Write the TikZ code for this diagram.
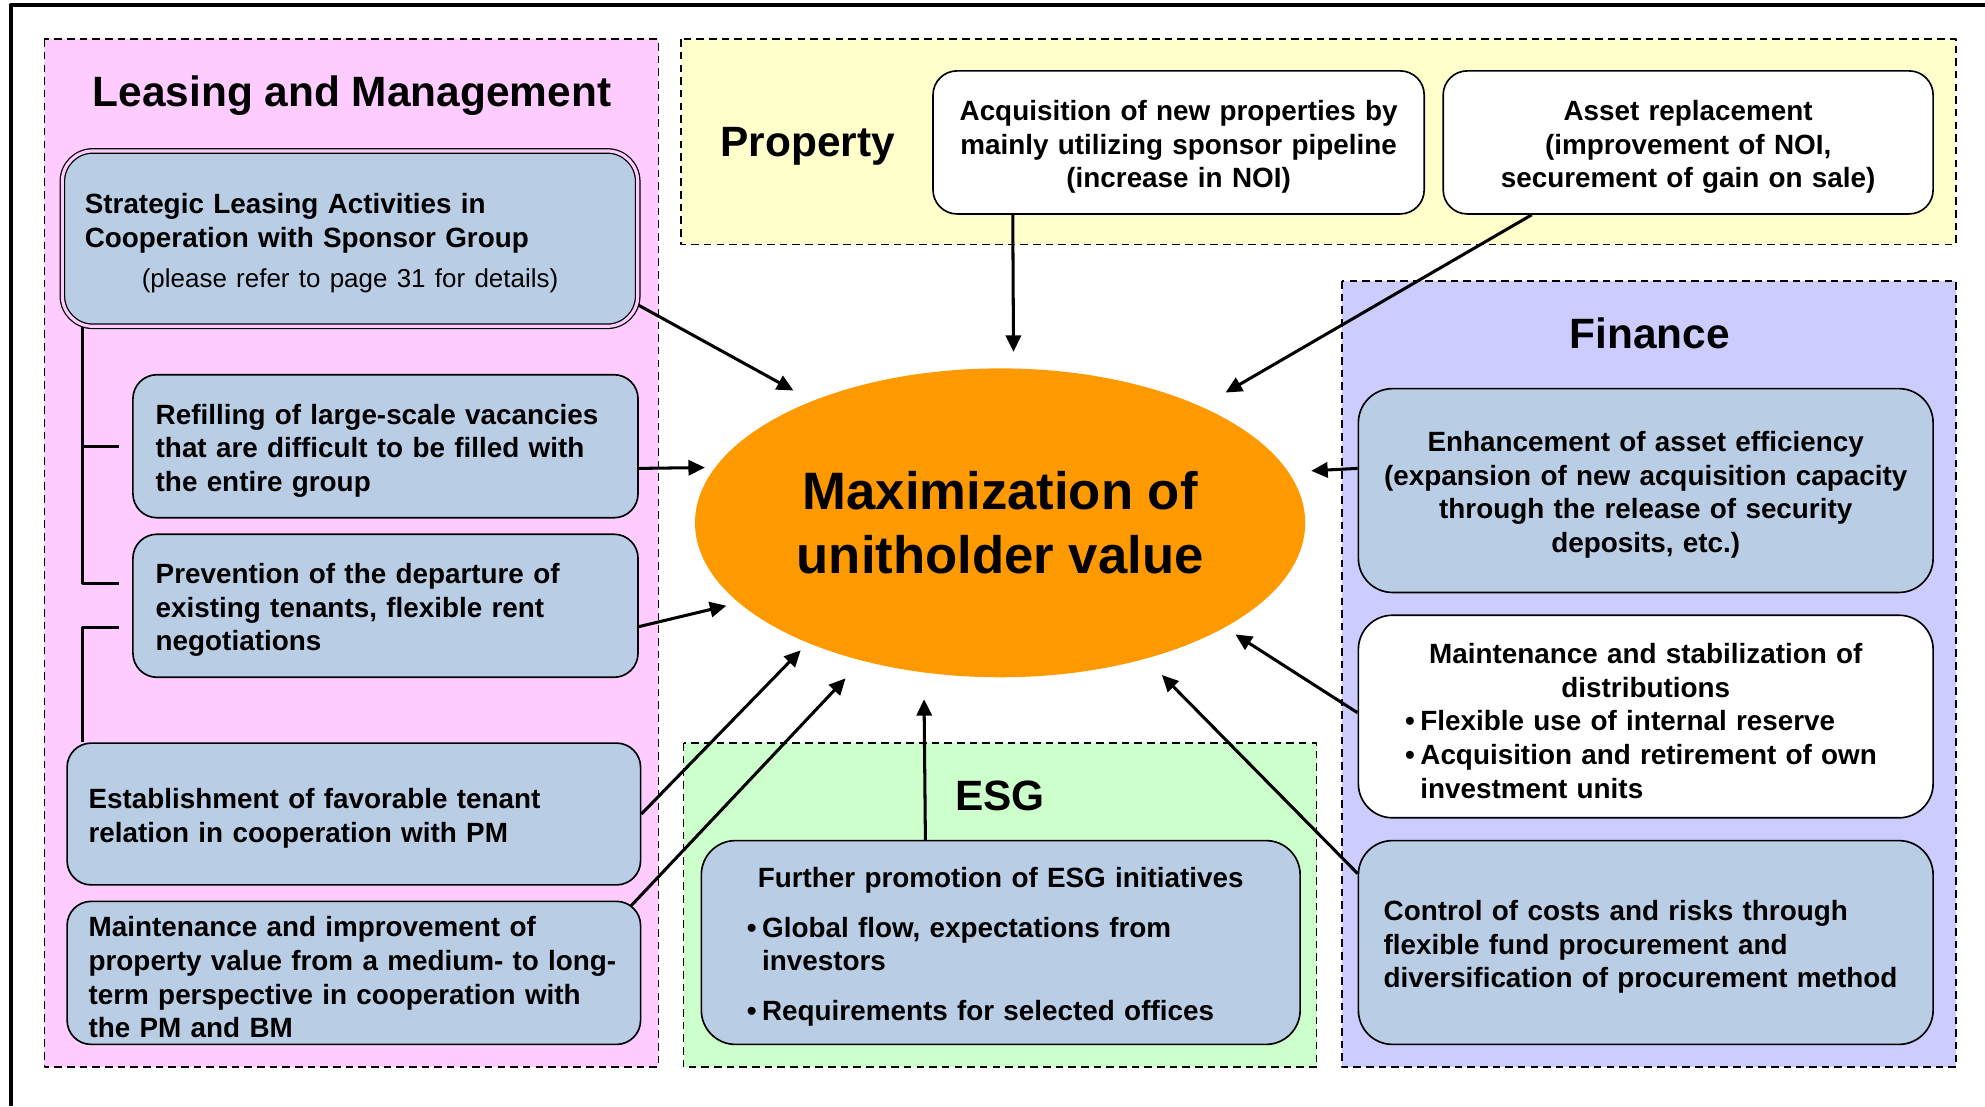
\documentclass[tikz,border=0pt]{standalone}
\usepackage{fontspec}
\setmainfont{Liberation Sans}
\usetikzlibrary{shapes.geometric,arrows.meta}

\definecolor{leasebg}{RGB}{255,204,255}
\definecolor{propbg}{RGB}{255,255,204}
\definecolor{finbg}{RGB}{204,204,255}
\definecolor{esgbg}{RGB}{204,255,204}
\definecolor{boxblue}{RGB}{185,205,229}
\definecolor{valueorange}{RGB}{255,153,0}

\newcommand{\boxfont}{\fontsize{22}{26.5}\selectfont\bfseries}
\newcommand{\bul}[1]{\par\noindent\hangindent=12pt\hangafter=1\makebox[12pt][l]{\textbullet}#1\par}

\tikzset{
  panel/.style={draw, line width=1.2pt, dash pattern=on 6pt off 4pt},
  item/.style={draw, line width=1.3pt, inner xsep=18pt, inner ysep=0pt, font=\boxfont,
    execute at begin node={\rule{0pt}{23pt}}},
  bluebox/.style={item, fill=boxblue},
  whitebox/.style={item, fill=white},
  heading/.style={anchor=base, font=\fontsize{33.5}{40}\selectfont\bfseries},
  tie/.style={line width=2.5pt},
  feed/.style={-{Triangle[length=13pt,width=12pt]}, line width=2.4pt}
}

\begin{document}
\begin{tikzpicture}[x=1pt,y=-1pt,line join=round]
    \useasboundingbox (0,0) rectangle (1568,874);

    % coloured panels
    \draw[panel, fill=leasebg] (35,31) rectangle (520,843);
    \draw[panel, fill=propbg] (538,31) rectangle (1545,193);
    \draw[panel, fill=finbg] (1060,222) rectangle (1545,843);
    \draw[panel, fill=esgbg] (540,587) rectangle (1040,843);

    % outer frame
    \draw[line width=3.5pt] (8.5,874) -- (8.5,4) -- (1568,4);

    % panel headings
    \node[heading] (leasetitle) at (278,84) {Leasing and Management};
    \node[heading] (proptitle) at (638,124) {Property};
    \node[heading] (fintitle) at (1303,275) {Finance};
    \node[heading] (esgtitle) at (790,640) {ESG};

    % centre
    \node[ellipse, fill=valueorange, minimum width=482pt, minimum height=244pt, inner sep=0pt, align=center,
          font=\fontsize{41.6}{51}\selectfont\bfseries] (value) at (790,413) {Maximization of\\unitholder value};

    % leasing and management
    \node[bluebox, double=leasebg, double distance=2.5pt, line width=1pt, rounded corners=24pt,
          minimum width=454.5pt, minimum height=138.5pt, inner xsep=17.75pt, text width=419pt, align=left] (strat) at (276.5,188.5)
        {Strategic Leasing Activities in\\Cooperation with Sponsor Group\\[5.5pt]\makebox[\hsize][c]{\fontsize{20.5}{26.5}\selectfont\mdseries(please refer to page 31 for details)}};
    \node[bluebox, rounded corners=19pt, minimum width=399pt, minimum height=113pt, text width=363pt, align=left] (refill) at (304.5,352.5)
        {Refilling of large-scale vacancies\\that are difficult to be filled with\\the entire group};
    \node[bluebox, rounded corners=19pt, minimum width=399pt, minimum height=113pt, text width=363pt, align=left] (prevent) at (304.5,478.5)
        {Prevention of the departure of\\existing tenants, flexible rent\\negotiations};
    \node[bluebox, rounded corners=19pt, minimum width=453pt, minimum height=112pt, inner xsep=17pt, text width=419pt, align=left] (establish) at (279.5,643)
        {Establishment of favorable tenant\\relation in cooperation with PM};
    \node[bluebox, rounded corners=19pt, minimum width=453pt, minimum height=113pt, inner xsep=17pt, text width=419pt, align=left] (maintimp) at (279.5,768.5)
        {Maintenance and improvement of\\property value from a medium- to long-\\term perspective in cooperation with\\the PM and BM};

    % property
    \node[whitebox, rounded corners=19pt, minimum width=388pt, minimum height=113pt, inner xsep=14pt, text width=360pt, align=center] (acq) at (931,112.5)
        {Acquisition of new properties by\\mainly utilizing sponsor pipeline\\(increase in NOI)};
    \node[whitebox, rounded corners=19pt, minimum width=387pt, minimum height=113pt, inner xsep=14pt, text width=359pt, align=center] (asset) at (1333.5,112.5)
        {Asset replacement\\(improvement of NOI,\\securement of gain on sale)};

    % finance
    \node[bluebox, rounded corners=27pt, minimum width=454pt, minimum height=161pt, inner xsep=12pt, text width=430pt, align=center] (enh) at (1300,387.5)
        {Enhancement of asset efficiency\\(expansion of new acquisition capacity\\through the release of security\\deposits, etc.)};
    \node[whitebox, rounded corners=27pt, minimum width=454pt, minimum height=160pt, inner xsep=37pt, text width=380pt, align=left] (stab) at (1300,566)
        {{\centering Maintenance and stabilization of\\distributions\par}\bul{Flexible use of internal reserve}\bul{Acquisition and retirement of own\newline investment units}};
    \node[bluebox, rounded corners=27pt, minimum width=454pt, minimum height=161pt, inner xsep=20pt, text width=414pt, align=left] (control) at (1300,744.5)
        {Control of costs and risks through\\flexible fund procurement and\\diversification of procurement method};

    % esg
    \node[bluebox, rounded corners=27pt, minimum width=473pt, minimum height=161pt, inner xsep=36pt, text width=401pt, align=left] (esgbox) at (790.5,744.5)
        {{\centering Further promotion of ESG initiatives\par}\vspace{13pt}\bul{Global flow, expectations from\newline investors}\vspace{13pt}\bul{Requirements for selected offices}};

    % brackets joining the leasing items
    \coordinate (spine) at (65,0);
    \draw[tie] (strat.south -| spine) |- ([xshift=-10pt,yshift=17.5pt]prevent.west);
    \draw[tie] (refill.west -| spine) -- ([xshift=-10pt]refill.west);
    \draw[tie] ([xshift=-10pt,yshift=-17.5pt]prevent.west) -| (establish.north -| spine);

    % arrow feet
    \coordinate (stratfoot) at ([yshift=-52.5pt]strat.east);
    \coordinate (refillfoot) at ([yshift=-17.5pt]refill.east);
    \coordinate (preventfoot) at ([yshift=-16.5pt]prevent.east);
    \coordinate (establishfoot) at (establish.east);
    \coordinate (maintfoot) at ([xshift=-8pt,yshift=-4pt]maintimp.north east);
    \coordinate (esgfoot) at ([xshift=-59.5pt]esgbox.north);
    \coordinate (acqfoot) at ([xshift=-131pt]acq.south);
    \coordinate (assetfoot) at ([xshift=-123.5pt]asset.south);
    \coordinate (enhfoot) at ([yshift=17.5pt]enh.west);
    \coordinate (stabfoot) at ([yshift=3pt]stab.west);
    \coordinate (controlfoot) at ([yshift=54.5pt]control.west);

    % everything feeds the centre
    \foreach \foot/\ang/\gap in {stratfoot/147.5/17, refillfoot/169.2/8, preventfoot/197.2/10, establishfoot/212.2/8,
            maintfoot/225/19, esgfoot/243.5/21, acqfoot/85.3/13, assetfoot/30.7/22, enhfoot/10.8/18,
            stabfoot/335.6/10, controlfoot/317.6/18} {
            \draw[feed, shorten >=\gap pt] (\foot) -- (value.\ang);
        }
\end{tikzpicture}
\end{document}
